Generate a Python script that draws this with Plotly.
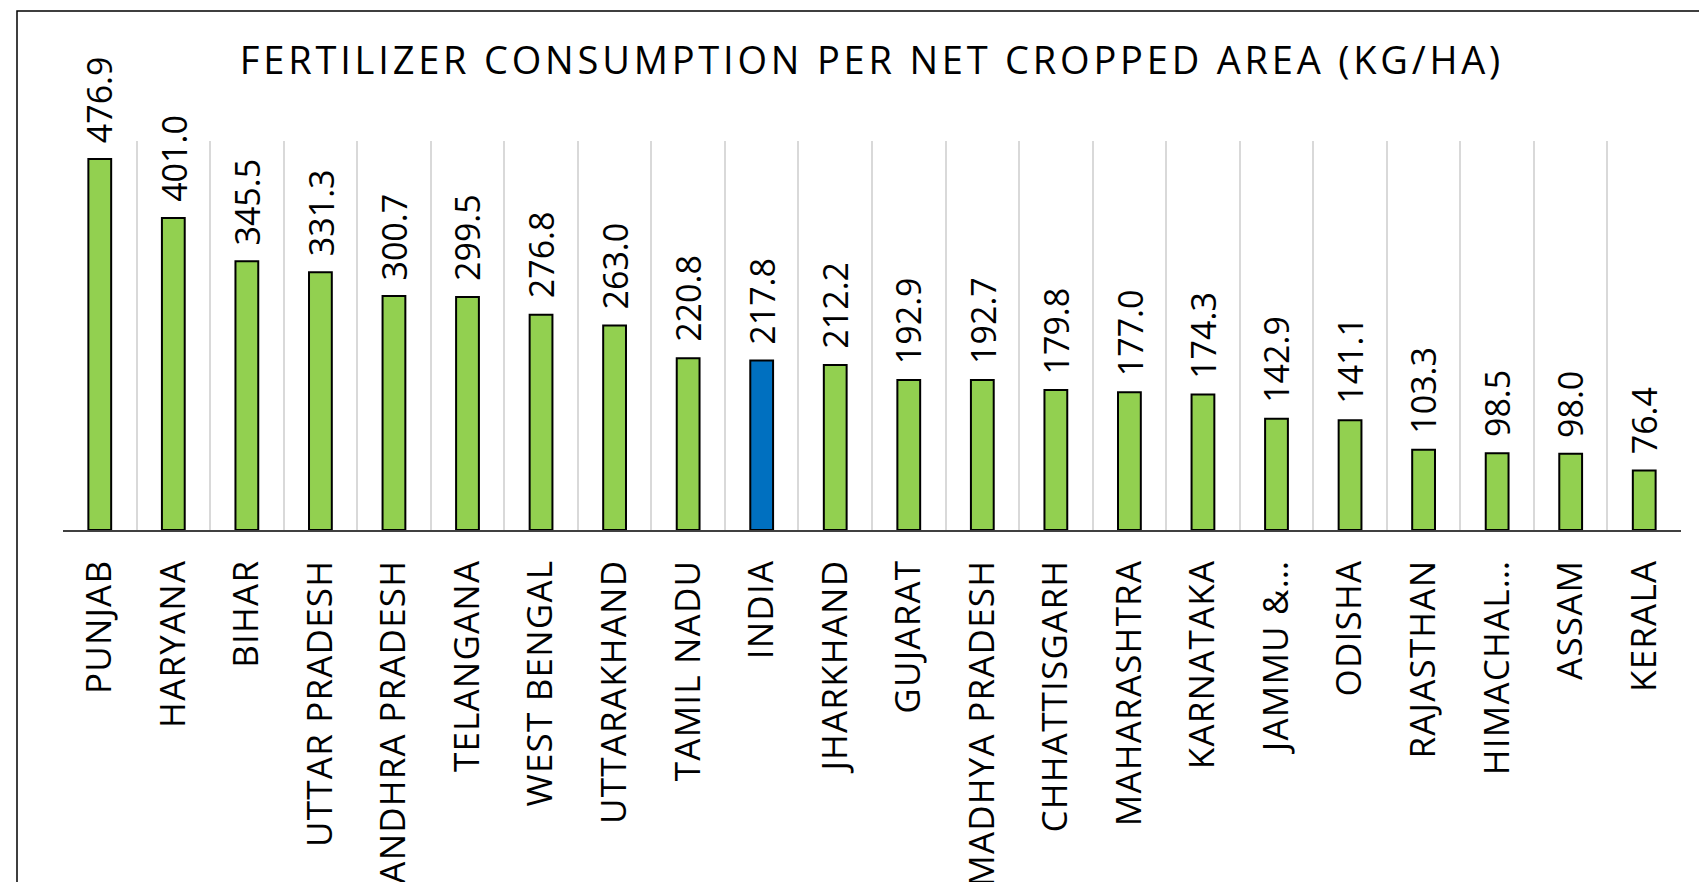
import plotly.graph_objects as go

categories = ["PUNJAB", "HARYANA", "BIHAR", "UTTAR PRADESH", "ANDHRA PRADESH", "TELANGANA",
              "WEST BENGAL", "UTTARAKHAND", "TAMIL NADU", "INDIA", "JHARKHAND", "GUJARAT",
              "MADHYA PRADESH", "CHHATTISGARH", "MAHARASHTRA", "KARNATAKA", "JAMMU &\u2026",
              "ODISHA", "RAJASTHAN", "HIMACHAL\u2026", "ASSAM", "KERALA"]
values = [476.9, 401.0, 345.5, 331.3, 300.7, 299.5, 276.8, 263.0, 220.8, 217.8, 212.2, 192.9,
          192.7, 179.8, 177.0, 174.3, 142.9, 141.1, 103.3, 98.5, 98.0, 76.4]
title_text = "FERTILIZER CONSUMPTION PER NET CROPPED AREA (KG/HA)"

GREEN = "#92D050"
BLUE = "#0070C0"
colors = [BLUE if c == "INDIA" else GREEN for c in categories]

# the page body has an 8px default margin; positions below are in figure pixels
W, H = 1707, 882
ML, MR, MT, MB = 55, 34, 133, 360
FONT = "Open Sans"

fig = go.Figure()
fig.add_trace(go.Bar(
    x=categories, y=values,
    marker=dict(color=colors, line=dict(color="#000000", width=2)),
    width=0.31,
    hoverinfo="x+y",
))

for c, v in zip(categories, values):
    fig.add_annotation(
        x=c, y=v, text=f"{v:.1f}", showarrow=False, textangle=-90,
        xanchor="center", yanchor="bottom", yshift=14,
        font=dict(family=FONT, size=34, color="#000000"),
    )

pw = W - ML - MR
ph = H - MT - MB
# outer chart border (extends beyond the visible window on right and bottom)
fig.add_shape(type="rect", xref="paper", yref="paper",
              x0=(9 - ML) / pw, x1=(W + 20 - ML) / pw,
              y0=(-30 - MB) / ph, y1=(H - 3 - MB) / ph,
              line=dict(color="#000000", width=1.5), fillcolor="rgba(0,0,0,0)", layer="below")

fig.update_layout(
    width=W, height=H,
    margin=dict(l=ML, r=MR, t=MT, b=MB, autoexpand=False),
    paper_bgcolor="#FFFFFF", plot_bgcolor="#FFFFFF",
    showlegend=False,
    title=dict(text=title_text, x=(ML + pw / 2) / W, xanchor="center",
               y=1 - 52.5 / H, yanchor="middle",
               font=dict(family=FONT, size=38, color="#000000")),
    xaxis=dict(
        type="category", tickangle=-90, tickson="boundaries",
        showgrid=True, gridcolor="#D9D9D9", gridwidth=1.5,
        showline=True, linecolor="#404040", linewidth=1.5,
        ticks="", ticklabelstandoff=14, automargin=False,
        tickfont=dict(family=FONT, size=35, color="#000000"),
        range=[-0.5, len(categories) - 0.5],
    ),
    yaxis=dict(range=[0, 500], showgrid=False, showticklabels=False,
               zeroline=False, showline=False, ticks="", automargin=False),
)

post = """
var gd = document.getElementById('{plot_id}');
function applySpacing() {
  gd.querySelectorAll('.xtick text').forEach(function (t) { t.style.letterSpacing = '1.2px'; });
  gd.querySelectorAll('.gtitle').forEach(function (t) { t.style.letterSpacing = '3.8px'; });
}
applySpacing();
gd.on('plotly_afterplot', applySpacing);
"""

fig.write_html("out.html", post_script=post)
